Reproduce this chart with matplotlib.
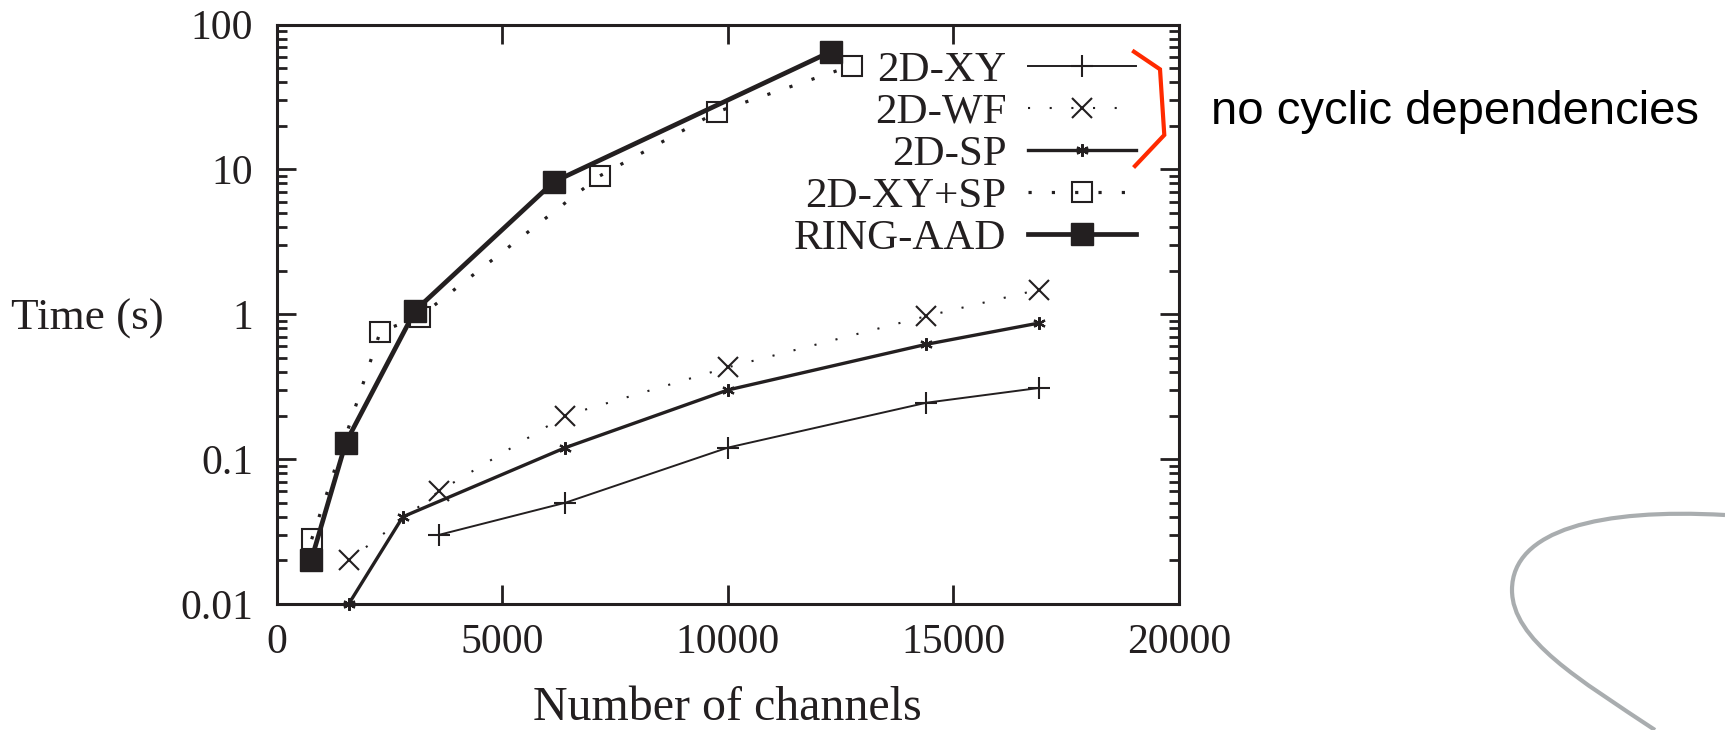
#! /usr/bin/env python
# -*- coding: utf-8 -*-
# Run time vs number of channels, log scale, gnuplot look
import numpy as np
import matplotlib
matplotlib.use("Agg")
from matplotlib import pyplot as plt
from matplotlib.path import Path
from matplotlib.patches import PathPatch
from matplotlib.ticker import NullLocator

# Data ##################################################################
xy_n   = [3600, 6400, 10000, 14400, 16900]
xy_t   = [0.03, 0.05, 0.12, 0.245, 0.31]
wf_n   = [1600, 3600, 6400, 10000, 14400, 16900]
wf_t   = [0.02, 0.06, 0.20, 0.43, 0.97, 1.48]
sp_n   = [1600, 2800, 6400, 10000, 14400, 16900]
sp_t   = [0.01, 0.04, 0.12, 0.30, 0.62, 0.87]
xysp_n = [780, 2300, 3170, 7160, 9770, 12750]
xysp_t = [0.028, 0.76, 0.96, 9.0, 25.0, 52.0]
ring_n = [768, 1536, 3072, 6144, 12288]
ring_t = [0.02, 0.13, 1.06, 8.2, 65.0]

labels  = ["2D-XY", "2D-WF", "2D-SP", "2D-XY+SP", "RING-AAD"]
xticks  = [0, 5000, 10000, 15000, 20000]
yticks  = [0.01, 0.1, 1, 10, 100]
ylabels = ["0.01", "0.1", "1", "10", "100"]

ink = '#231f20'
plt.rcParams['font.family'] = ['Liberation Serif', 'DejaVu Serif']

W, H = 1725, 730
fig = plt.figure(figsize=(W/100., H/100.), dpi=100)
ax = fig.add_axes([276.5/W, 1-604/H, (1179-276.5)/W, (604-24.5)/H])

# Series ###############################################################
l1, = ax.plot(xy_n, xy_t, '-', color=ink, lw=1.4, marker='+', ms=16.5, mew=1.5, clip_on=False)
l2, = ax.plot(wf_n, wf_t, color=ink, lw=1.5, dashes=(1, 9.4), marker='x', ms=15, mew=1.5, clip_on=False)
l3, = ax.plot(sp_n, sp_t, '-', color=ink, lw=2.4, marker=(6, 2, 0), ms=9, mew=1.6, clip_on=False)
l4, = ax.plot(xysp_n, xysp_t, color=ink, lw=2.3, dashes=(1, 6.3), marker='s', ms=14.5,
              mfc='none', mec=ink, mew=1.5, clip_on=False)
l5, = ax.plot(ring_n, ring_t, '-', color=ink, lw=3.4, marker='s', ms=15.5, mfc=ink, mec=ink, clip_on=False)

# Axes ################################################################
ax.set_yscale('log')
ax.set_xlim(0, 20000)
ax.set_ylim(0.01, 100)
ax.set_xticks(xticks)
ax.set_xticklabels([str(v) for v in xticks])
ax.set_yticks(yticks)
ax.set_yticklabels(ylabels)
ax.xaxis.set_minor_locator(NullLocator())
ax.tick_params(which='both', direction='in', top=True, right=True, width=2, color=ink,
               labelcolor=ink, labelsize=30)
ax.tick_params(which='major', length=14)
ax.tick_params(which='minor', length=7)
ax.tick_params(axis='y', which='major', pad=17)
ax.tick_params(axis='x', which='major', pad=14)
for s in ax.spines.values():
    s.set_linewidth(2.2)
    s.set_color(ink)

fig.text(11/W, 1-330/H, "Time (s)", fontsize=32.5, color=ink, va='baseline', ha='left')
fig.text((276.5+1179)/2/W, 1-720/H, "Number of channels", fontsize=34.5, color=ink,
         va='baseline', ha='center')

leg = ax.legend([l1, l2, l3, l4, l5], labels, loc='upper right', bbox_to_anchor=(0.952, 0.955),
                markerfirst=False, frameon=False, fontsize=31, handlelength=2.5,
                handletextpad=0.5, labelspacing=0.07, borderpad=0, borderaxespad=0)
for t in leg.get_texts():
    t.set_color(ink)

# Annotation: red bracket and note ####################################
bx = np.array([1134, 1160, 1164.3, 1135]) / W
by = 1 - np.array([51.7, 69.3, 135, 166]) / H
fig.add_artist(plt.Line2D(bx, by, color='#ff2a00', lw=3, solid_joinstyle='miter'))
fig.text(1211/W, 1-124/H, "no cyclic dependencies", fontsize=34, color='black',
         family=['Liberation Sans', 'DejaVu Sans'], va='baseline', ha='left')

# Grey swoosh in the lower right corner
verts = [(1725, 515), (1600, 508), (1512, 530), (1512, 590),
         (1512, 640), (1580, 680), (1655, 730)]
verts = [(x/W, 1-y/H) for x, y in verts]
codes = [Path.MOVETO] + [Path.CURVE4]*6
fig.add_artist(PathPatch(Path(verts, codes), transform=fig.transFigure, fill=False,
                         edgecolor='#a9adaf', lw=3))

fig.savefig('out.png', dpi=100)
